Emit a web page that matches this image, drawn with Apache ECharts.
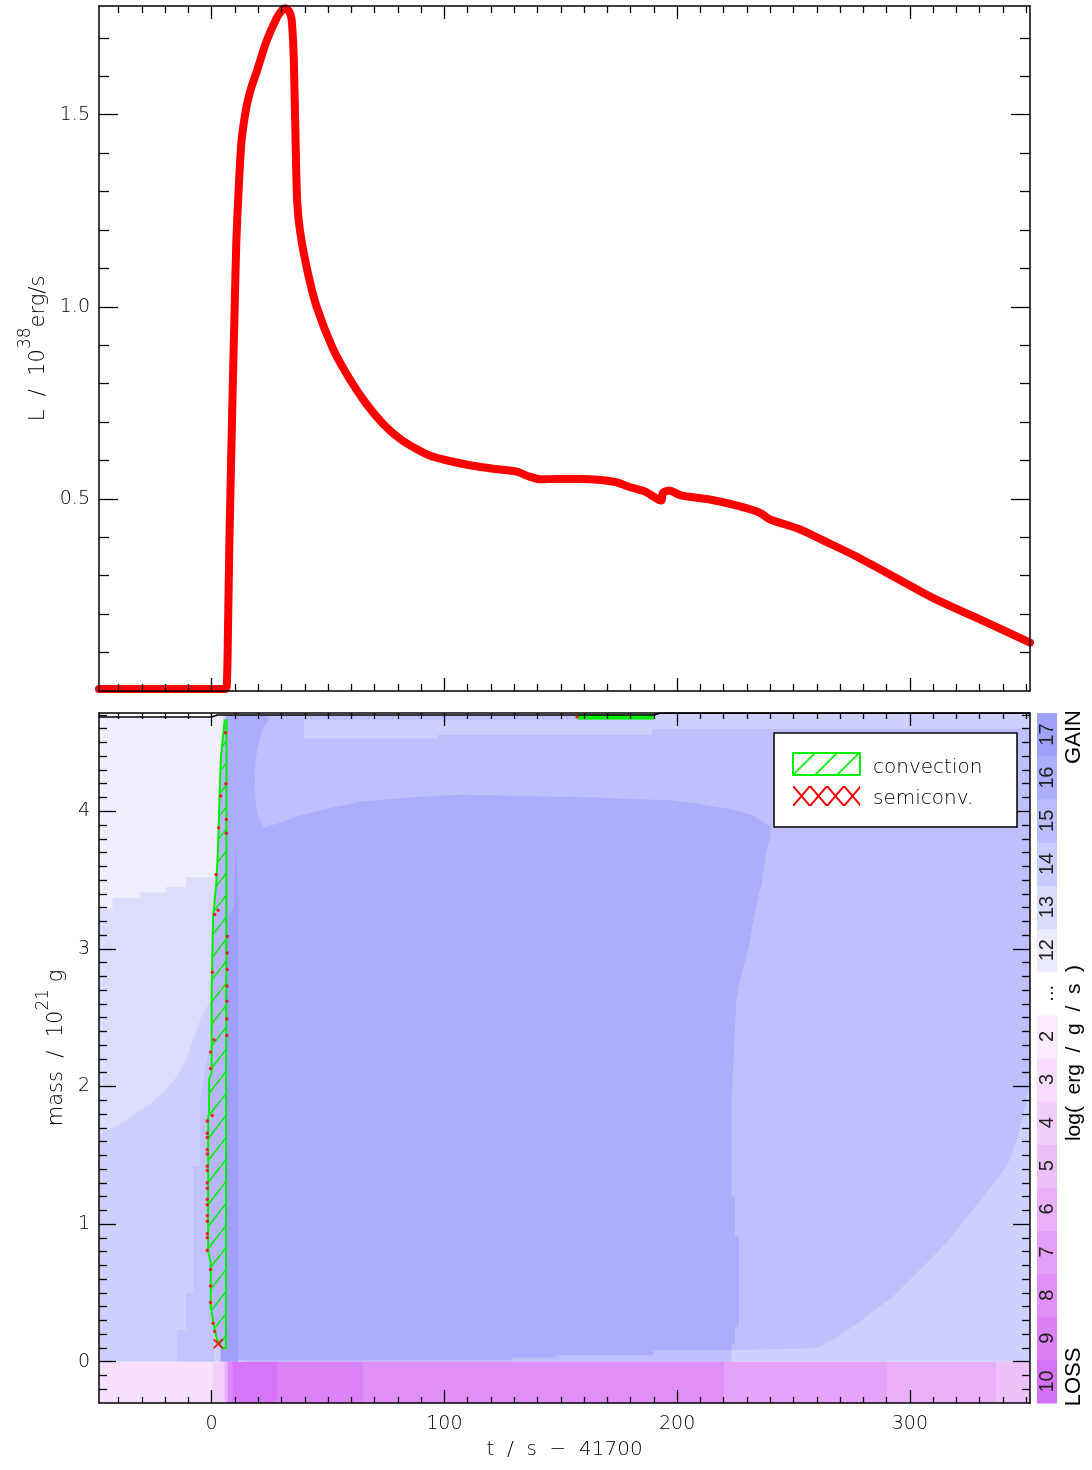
<!DOCTYPE html>
<html><head><meta charset="utf-8">
<script src="https://cdn.jsdelivr.net/npm/echarts@6/dist/echarts.min.js"></script>
<style>html,body{margin:0;padding:0;background:#fff}#c{width:1092px;height:1470px}</style>
</head><body><div id="c"></div>
<script>
// ---------------- data ----------------
const T_MIN = -48.4, T_MAX = 351.6;
const L_MAX = 1.783;
const M_MIN = -0.3, M_MAX = 4.714;

// light curve (t, L)
const lumT = [-48.4, 6.0, 6.6, 7.0, 7.6, 8.2, 9.1, 9.98, 10.6, 11.4, 12.8, 14.95, 17, 19.25, 23.5, 27.8, 30.3, 31.7, 33.2, 34.3, 35.0, 35.4, 36.0, 36.7, 37.9, 40.7, 45.0, 52.2, 59.3, 66.5, 73.7, 80.8, 88, 94.5, 101.3, 111.5, 121.7, 131.1, 136.1, 141.2, 148.9, 159.1, 165.9, 173.5, 179.5, 186.3, 193.1, 193.9, 196.5, 201.6, 213.4, 225.4, 235.5, 239.8, 252.6, 262.7, 276.4, 293.3, 310.3, 327.3, 351.6];
const lumL = [0.005, 0.005, 0.03, 0.15, 0.38, 0.553, 0.80, 1.02, 1.17, 1.28, 1.43, 1.52, 1.57, 1.61, 1.69, 1.75, 1.772, 1.777, 1.77, 1.75, 1.69, 1.62, 1.45, 1.28, 1.20, 1.106, 1.002, 0.89, 0.812, 0.747, 0.695, 0.657, 0.63, 0.611, 0.600, 0.587, 0.578, 0.571, 0.559, 0.551, 0.552, 0.552, 0.550, 0.544, 0.531, 0.519, 0.496, 0.516, 0.522, 0.509, 0.499, 0.483, 0.464, 0.447, 0.421, 0.392, 0.352, 0.297, 0.241, 0.194, 0.126];

// region boundaries in (t, mass) of the Kippenhahn panel
const regBase = [[T_MIN, 0], [T_MAX, 0], [T_MAX, M_MAX], [T_MIN, M_MAX]];
const regMidLeft = [[-48.4, 1.65], [-40, 1.72], [-33, 1.80], [-26, 1.88], [-20, 1.97], [-15, 2.07], [-11, 2.19], [-8, 2.34], [-4, 2.53], [0, 2.63], [3, 2.63], [3, M_MAX], [T_MIN, M_MAX]];
const regTopLeft = [[-48.4, 3.29], [-42.6, 3.29], [-42.6, 3.37], [-31, 3.37], [-31, 3.41], [-19.5, 3.41], [-19.5, 3.45], [-11, 3.45], [-11, 3.52], [1, 3.52], [3, 3.6], [5, 4.0], [5, M_MAX], [T_MIN, M_MAX]];
const regWedge = [[-15, 0], [-15, 0.23], [-11, 0.23], [-11, 0.5], [-8, 0.5], [-8, 1.42], [-5, 1.42], [-5, 1.9], [-2, 2.2], [1, 2.4], [1, 0]];
const reg14 = [[15, 0], [223.4, 0], [223.4, 0.083], [259.9, 0.097], [267, 0.163], [275.6, 0.255], [284.2, 0.364], [292.8, 0.473], [301.4, 0.619], [310, 0.765], [318.6, 0.92], [325.8, 1.08], [331.5, 1.2], [338.7, 1.35], [343, 1.47], [345.8, 1.6], [349.4, 1.85], [351.6, 2.02], [351.6, M_MAX], [15, M_MAX]];
const regTopBand = [[39.6, 4.665], [39.6, 4.53], [97.2, 4.53], [97.2, 4.556], [189.4, 4.556], [189.4, 4.60], [351.6, 4.60], [351.6, M_MAX], [189.4, M_MAX], [189.4, 4.665]];
const regMain = [[6.1, 0.011], [129, 0.011], [129, 0.03], [148, 0.03], [148, 0.047], [189.7, 0.047], [189.7, 0.083], [223.4, 0.083], [223.4, 0.13], [224.8, 0.13], [224.8, 0.25], [226.6, 0.25], [226.6, 0.91], [224.8, 0.91], [224.8, 1.2], [223.4, 1.2], [223.4, 1.91], [224.5, 2.3], [225.4, 2.62], [226.6, 2.74], [228.1, 2.85], [229.8, 2.93], [231.2, 3.06], [233, 3.23], [235.1, 3.4], [236.3, 3.46], [238, 3.68], [240.1, 3.82], [240.1, 3.89], [236.3, 3.93], [233.4, 3.96], [230.5, 3.98], [226.9, 4.0], [221.2, 4.02], [214, 4.04], [206.8, 4.06], [198.2, 4.08], [175, 4.09], [166.4, 4.10], [131.8, 4.11], [106.9, 4.12], [85, 4.10], [64.7, 4.07], [50, 4.02], [37.9, 3.97], [28, 3.91], [22.4, 3.88], [19.5, 3.98], [18.5, 4.15], [18.8, 4.35], [19.6, 4.45], [21.5, 4.58], [24.4, 4.665], [24.4, 4.70], [6.1, 4.70]];
const regDark = [[3.8, 0], [11.6, 0], [11.6, 3.3], [10.4, 3.79], [9.6, 3.3], [6.1, 3.2], [6.1, 0.1], [3.8, 0.1]];
const regAboveSurface = [[T_MIN, 4.685], [0, 4.685], [2.4, 4.70], [190, 4.70], [193, M_MAX], [T_MAX, M_MAX], [T_MAX, 4.73], [T_MIN, 4.73]];

// convection zone outline
const convZone = [[4.6, 0.10], [2.5, 0.15], [1.3, 0.23], [0.6, 0.30], [-0.4, 0.40], [-0.4, 0.72], [-1.5, 0.80], [-1.5, 1.78], [-1.1, 1.80], [-1.1, 2.05], [0, 2.10], [0, 2.70], [0.6, 3.23], [2.0, 3.48], [2.7, 3.72], [3.5, 4.16], [4.0, 4.40], [5.6, 4.66], [6.4, 4.66], [6.1, 0.10]];
const convTop = [[157.5, 4.67], [190, 4.67], [190, 4.70], [157.5, 4.70]];

// semiconvection marks
const semiPts = [[-1.9, 1.75], [-1.9, 1.66], [-1.9, 1.63], [-1.9, 1.54], [-1.9, 1.51], [-1.9, 1.42], [-1.9, 1.39], [-1.9, 1.30], [-1.9, 1.26], [-1.9, 1.18], [-1.9, 1.14], [-1.9, 1.06], [-1.9, 1.02], [-1.9, 0.93], [-1.9, 0.90], [-1.9, 0.81], [-0.5, 2.25], [-0.5, 2.13], [0.3, 1.79], [-0.5, 0.67], [-0.5, 0.55], [-0.5, 0.43], [0.6, 0.28], [1.3, 0.22], [6.6, 2.62], [6.5, 2.49], [6.5, 2.37], [1.0, 2.34], [3.9, 4.11], [3.0, 3.88], [1.9, 3.54], [1.3, 3.25], [0.3, 2.83], [6.1, 4.20], [5.9, 4.57], [6.3, 3.94], [6.3, 3.84], [6.8, 3.09], [6.7, 2.97], [6.7, 2.85], [6.6, 2.73], [2.8, 3.28], [157, 4.685]];
const semiCross = [[2.8, 0.13]];

// stellar surface
const surfPts = [[T_MIN, 4.685], [0, 4.685], [2.4, 4.70], [190, 4.70], [193, M_MAX], [T_MAX, M_MAX]];

// energy-loss strip below mass 0: interval edges in t
const lossEdges = [-48.4, 0.5, 5.5, 6.9, 9, 28, 65, 220, 290, 337, 351.6];

// colour bar
const cbLabels = ['10', '9', '8', '7', '6', '5', '4', '3', '2', '...', '12', '13', '14', '15', '16', '17'];

// tick labels
const tTicks = [0, 100, 200, 300];
const lTicks = [0.5, 1.0, 1.5];
const mTicks = [0, 1, 2, 3, 4];

// ---------------- styles ----------------
const lossColors = ['#f7e0fc', '#f3cefa', '#e8b2f8', '#dd88f7', '#d874f7', '#dc82f7', '#e08ff8', '#e5a2f8', '#e9aff9', '#eec0fa'];
const cbColors = ['#d571f4', '#da80f5', '#df90f6', '#e49ff7', '#e9aff8', '#eebef9', '#f3cdfa', '#f8dcfb', '#fcebfd', '#ffffff', '#ebebfe', '#dadafd', '#cacafc', '#bcbcfc', '#adadfb', '#a0a0f8'];
const regions = [
  { pts: regBase, color: '#cfcffd' },
  { pts: regMidLeft, color: '#dcdcfd' },
  { pts: regTopLeft, color: '#eeeefe' },
  { pts: regWedge, color: '#c3c3fc' },
  { pts: reg14, color: '#bfbffd' },
  { pts: regTopBand, color: '#cfcffd' },
  { pts: regMain, color: '#adadfe' },
  { pts: regDark, color: '#a0a0fa' }
];
const FONT = "'DejaVu Sans', 'Noto Sans', sans-serif";
const TXT = '#000';

function makePattern(w, h, color, lw, cross) {
  const c = document.createElement('canvas');
  c.width = w; c.height = h;
  const g = c.getContext('2d');
  g.strokeStyle = color; g.lineWidth = lw;
  g.beginPath();
  g.moveTo(-2, h + 2 * h / w); g.lineTo(w + 2, -2 * h / w);
  if (cross) { g.moveTo(-2, -2 * h / w); g.lineTo(w + 2, h + 2 * h / w); }
  g.stroke();
  return c;
}
const hatch = makePattern(17, 22, '#00ee00', 1.6, false);
const legHatch = makePattern(22, 22, '#00ee00', 1.6, false);
const legCross = makePattern(17, 20, '#ff0000', 2, true);

// ---------------- axes ----------------
function range(a, b, s, skip) {
  const out = [];
  for (let v = a; v <= b + 1e-9; v += s) {
    const r = Math.round(v * 1000) / 1000;
    if (!skip.some(k => Math.abs(k - r) < 1e-6)) out.push(r);
  }
  return out;
}
const tMinor = range(-40, 350, 10, tTicks);
const lMinor = range(0.1, 1.7, 0.1, lTicks);
const mMinor = range(-0.2, 4.7, 0.1, mTicks);

const xAxes = [], yAxes = [];
function addAxes(list, gi, dim, min, max, majors, minors, majLen, minLen, labelCfg, name) {
  const posA = dim === 'x' ? 'bottom' : 'left';
  const posB = dim === 'x' ? 'top' : 'right';
  const base = { type: 'value', gridIndex: gi, min, max, z: 10, splitLine: { show: false } };
  const line = { show: true, onZero: false, lineStyle: { color: '#000', width: 1.5 } };
  const idx = list.length;
  list.push(Object.assign({}, base, {
    position: posA, axisLine: line,
    axisTick: { show: true, inside: true, length: majLen, customValues: majors, lineStyle: { color: '#000', width: 1.3 } },
    axisLabel: labelCfg ? Object.assign({ show: true, customValues: majors, color: TXT, fontSize: 19, fontFamily: FONT, fontWeight: 200 }, labelCfg) : { show: false }
  }, name || {}));
  list.push(Object.assign({}, base, {
    position: posA, axisLine: { show: false, onZero: false },
    axisTick: { show: true, inside: true, length: minLen, customValues: minors, lineStyle: { color: '#000', width: 1.3 } },
    axisLabel: { show: false }
  }));
  list.push(Object.assign({}, base, {
    position: posB, axisLine: line,
    axisTick: { show: true, inside: true, length: majLen, customValues: majors, lineStyle: { color: '#000', width: 1.3 } },
    axisLabel: { show: false }
  }));
  list.push(Object.assign({}, base, {
    position: posB, axisLine: { show: false, onZero: false },
    axisTick: { show: true, inside: true, length: minLen, customValues: minors, lineStyle: { color: '#000', width: 1.3 } },
    axisLabel: { show: false }
  }));
  return idx;
}
const supRich = {
  a: { fontSize: 21, fontFamily: FONT, fontWeight: 200, color: TXT, lineHeight: 32, verticalAlign: 'bottom' },
  s: { fontSize: 17, fontFamily: FONT, fontWeight: 200, color: TXT, lineHeight: 32, verticalAlign: 'top' }
};
// top panel
const xTop = addAxes(xAxes, 0, 'x', T_MIN, T_MAX, tTicks, tMinor, 13, 7, null);
const yTop = addAxes(yAxes, 0, 'y', 0, L_MAX, lTicks, lMinor, 19, 10, { margin: 9, formatter: v => v.toFixed(1) },
  { name: '{a|L  /  10}{s|38}{a|erg/s}', nameLocation: 'middle', nameRotate: 90, nameGap: 50, nameTextStyle: { rich: supRich } });
// bottom panel
const xBot = addAxes(xAxes, 1, 'x', T_MIN, T_MAX, tTicks, tMinor, 13, 6, { margin: 12, formatter: v => String(v) },
  { name: 't  /  s  \u2212  41700', nameLocation: 'middle', nameGap: 37, nameTextStyle: { fontSize: 20, fontFamily: FONT, fontWeight: 200, color: TXT } });
const yBot = addAxes(yAxes, 1, 'y', M_MIN, M_MAX, mTicks, mMinor, 17, 8, { margin: 9, formatter: v => String(v) },
  { name: '{a|mass  /  10}{s|21}{a| g}', nameLocation: 'middle', nameRotate: 90, nameGap: 28, nameTextStyle: { rich: supRich, padding: [0, 0, 0, 20] } });
// colour bar
const xCb = xAxes.length; xAxes.push({ type: 'value', gridIndex: 2, min: 0, max: 1, show: false });
const yCb = yAxes.length; yAxes.push({ type: 'value', gridIndex: 2, min: 0, max: 16, show: false });

// ---------------- series ----------------
const series = [
  {
    type: 'line', xAxisIndex: xTop, yAxisIndex: yTop, data: lumT.map((t, i) => [t, lumL[i]]),
    showSymbol: false, symbol: 'none', clip: true, z: 3, smooth: 0.25,
    lineStyle: { color: '#ff0000', width: 8, join: 'round', cap: 'round' }
  },
  {
    type: 'custom', xAxisIndex: xBot, yAxisIndex: yBot, clip: true, silent: true, z: 2,
    data: regions.map((r, i) => [i]),
    renderItem: (params, api) => {
      const r = regions[params.dataIndex];
      return { type: 'polygon', shape: { points: r.pts.map(p => api.coord(p)) }, style: { fill: r.color } };
    }
  },
  {
    type: 'custom', xAxisIndex: xBot, yAxisIndex: yBot, clip: true, silent: true, z: 2,
    data: lossColors.map((c, i) => [i]),
    renderItem: (params, api) => {
      const i = params.dataIndex;
      const a = api.coord([lossEdges[i], 0]);
      const b = api.coord([lossEdges[i + 1], M_MIN]);
      return { type: 'rect', shape: { x: a[0], y: a[1], width: b[0] - a[0] + 0.5, height: b[1] - a[1] }, style: { fill: lossColors[i] } };
    }
  },
  {
    type: 'custom', xAxisIndex: xBot, yAxisIndex: yBot, clip: true, silent: true, z: 3,
    data: [[0]],
    renderItem: (params, api) => {
      const pts = convZone.map(p => api.coord(p));
      const top = convTop.map(p => api.coord(p));
      const cover = regAboveSurface.map(p => api.coord(p));
      return {
        type: 'group', children: [
          { type: 'polygon', shape: { points: pts }, style: { fill: '#b6b6fc' } },
          { type: 'polygon', shape: { points: pts }, style: { fill: { image: hatch, repeat: 'repeat' }, stroke: '#00ee00', lineWidth: 2 } },
          { type: 'polygon', shape: { points: cover }, style: { fill: '#ffffff' } },
          { type: 'polygon', shape: { points: top }, style: { fill: '#00ee00', stroke: '#00ee00', lineWidth: 1 } }
        ]
      };
    }
  },
  {
    type: 'line', xAxisIndex: xBot, yAxisIndex: yBot, data: surfPts, showSymbol: false, symbol: 'none', z: 4,
    lineStyle: { color: '#000', width: 1.5 }, silent: true
  },
  {
    type: 'scatter', xAxisIndex: xBot, yAxisIndex: yBot, data: semiPts, symbol: 'circle', symbolSize: 3.5, z: 5,
    itemStyle: { color: '#ff0000' }, silent: true
  },
  {
    type: 'scatter', xAxisIndex: xBot, yAxisIndex: yBot, data: semiCross, symbol: 'path://M0,0L10,10M10,0L0,10', symbolSize: 9, z: 5,
    itemStyle: { color: 'none', borderColor: '#ff0000', borderWidth: 2 }, silent: true
  },
  {
    type: 'custom', xAxisIndex: xCb, yAxisIndex: yCb, silent: true, z: 2,
    data: cbLabels.map((l, i) => [i]),
    renderItem: (params, api) => {
      const i = params.dataIndex;
      const a = api.coord([0, i]);
      const b = api.coord([1, i + 1]);
      return {
        type: 'group', children: [
          { type: 'rect', shape: { x: a[0], y: b[1], width: b[0] - a[0], height: a[1] - b[1] + 0.5 }, style: { fill: cbColors[i] } },
          {
            type: 'text', x: (a[0] + b[0]) / 2 + 0.5, y: (a[1] + b[1]) / 2, rotation: Math.PI / 2,
            style: { text: cbLabels[i], fill: '#222', fontSize: 20, fontFamily: "'Liberation Sans Narrow', 'Liberation Sans', sans-serif", align: 'center', verticalAlign: 'middle' }
          }
        ]
      };
    }
  }
];

// ---------------- chart ----------------
const chart = echarts.init(document.getElementById('c'), null, { renderer: 'canvas' });
chart.setOption({
  animation: false,
  backgroundColor: '#ffffff',
  grid: [
    { left: 99, right: 62, top: 6, height: 685, containLabel: false },
    { left: 99, right: 62, top: 713, height: 690, containLabel: false },
    { left: 1037, width: 20, top: 713, height: 690, containLabel: false }
  ],
  xAxis: xAxes,
  yAxis: yAxes,
  series: series,
  graphic: [
    { type: 'rect', x: 774, y: 733, z: 20, shape: { x: 0, y: 0, width: 243, height: 94 }, style: { fill: '#fff', stroke: '#000', lineWidth: 1.5 } },
    { type: 'rect', x: 793, y: 753, z: 21, shape: { x: 0, y: 0, width: 67, height: 22 }, style: { fill: { image: legHatch, repeat: 'repeat' }, stroke: '#00ee00', lineWidth: 2 } },
    { type: 'rect', x: 793, y: 786, z: 21, shape: { x: 0, y: 0, width: 67, height: 20 }, style: { fill: { image: legCross, repeat: 'repeat' } } },
    { type: 'text', x: 873, y: 768, z: 21, style: { text: 'convection', fill: TXT, fontSize: 20, fontFamily: FONT, fontWeight: 200, align: 'left', verticalAlign: 'middle' } },
    { type: 'text', x: 873, y: 799, z: 21, style: { text: 'semiconv.', fill: TXT, fontSize: 20, fontFamily: FONT, fontWeight: 200, align: 'left', verticalAlign: 'middle' } },
    { type: 'text', x: 1074, y: 737, z: 21, rotation: Math.PI / 2, style: { text: 'GAIN', fill: '#000', fontSize: 22, fontFamily: "'Liberation Sans', sans-serif", align: 'center', verticalAlign: 'middle' } },
    { type: 'text', x: 1074, y: 1377, z: 21, rotation: Math.PI / 2, style: { text: 'LOSS', fill: '#000', fontSize: 22, fontFamily: "'Liberation Sans', sans-serif", align: 'center', verticalAlign: 'middle' } },
    { type: 'text', x: 1074, y: 1053, z: 21, rotation: Math.PI / 2, style: { text: 'log(  erg  /  g  /  s  )', fill: '#000', fontSize: 21, fontFamily: "'Liberation Sans', sans-serif", align: 'center', verticalAlign: 'middle' } }
  ]
});
</script>
</body></html>
